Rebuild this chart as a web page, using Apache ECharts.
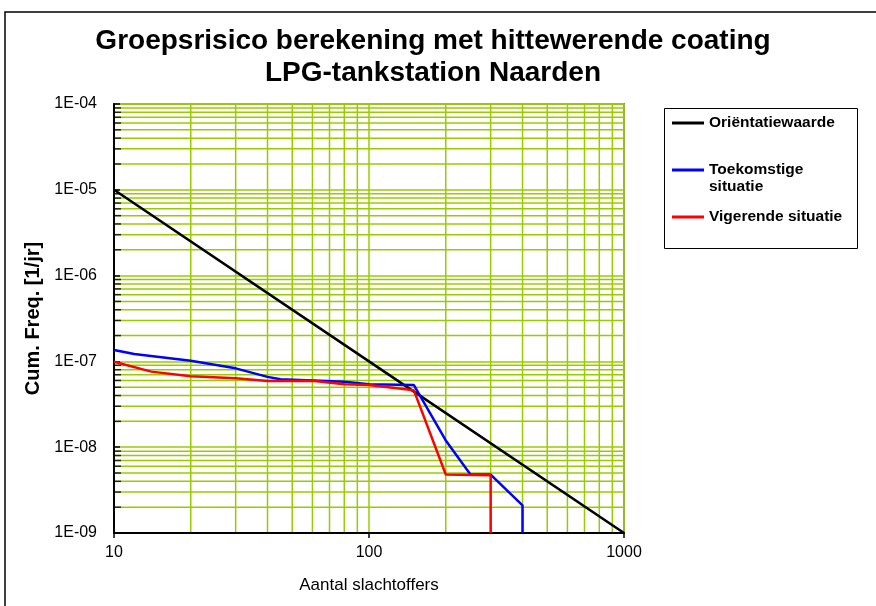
<!DOCTYPE html>
<html>
<head>
<meta charset="utf-8">
<script src="https://cdn.jsdelivr.net/npm/echarts@6/dist/echarts.min.js"></script>
<style>html,body{margin:0;padding:0;background:#fff}#c{width:876px;height:606px}</style>
</head>
<body>
<div id="c"></div>
<script>
// ---- data ----
var seriesNames = ['Oriëntatiewaarde', 'Toekomstige situatie', 'Vigerende situatie'];
var orientX = [10, 100, 1000];
var orientY = [1e-5, 1e-7, 1e-9];
var toekomstX = [10, 12, 20, 30, 40, 45, 60, 80, 100, 150, 200, 250, 300, 400, 400];
var toekomstY = [1.36e-7, 1.22e-7, 1.02e-7, 8.3e-8, 6.6e-8, 6.2e-8, 6.0e-8, 5.8e-8, 5.4e-8, 5.3e-8, 1.2e-8, 4.8e-9, 4.8e-9, 2.1e-9, 1e-9];
var vigerendX = [10, 14, 20, 30, 40, 60, 80, 100, 150, 200, 300, 300];
var vigerendY = [9.9e-8, 7.6e-8, 6.7e-8, 6.35e-8, 5.9e-8, 5.95e-8, 5.4e-8, 5.3e-8, 4.6e-8, 4.8e-9, 4.7e-9, 1e-9];
var xTickValues = [10, 100, 1000];
var yTickValues = [1e-9, 1e-8, 1e-7, 1e-6, 1e-5, 1e-4];
var yTickLabels = ['1E-09', '1E-08', '1E-07', '1E-06', '1E-05', '1E-04'];
var minorMult = [2, 3, 4, 5, 6, 7, 8, 9];

function pairs(xs, ys) { return xs.map(function (x, i) { return [x, ys[i]]; }); }
var xMinor = [], yMinor = [];
[10, 100].forEach(function (d) { minorMult.forEach(function (m) { xMinor.push(m * d); }); });
[1e-9, 1e-8, 1e-7, 1e-6, 1e-5].forEach(function (d) { minorMult.forEach(function (m) { yMinor.push(m * d); }); });

var GREEN = '#99CC00';
var FONT = 'Liberation Sans';
var X0 = xTickValues[0], X1 = xTickValues[xTickValues.length - 1];
var Y0 = yTickValues[0], Y1 = yTickValues[yTickValues.length - 1];

var gridSeries = [];
xMinor.forEach(function (v) {
  gridSeries.push({name: 'gx' + v, type: 'line', data: [[v, Y0], [v, Y1]], showSymbol: false, silent: true, z: 1,
    lineStyle: {color: GREEN, width: 1.5}, emphasis: {disabled: true}, tooltip: {show: false}});
});
yMinor.forEach(function (v) {
  gridSeries.push({name: 'gy' + v, type: 'line', data: [[X0, v], [X1, v]], showSymbol: false, silent: true, z: 1,
    lineStyle: {color: GREEN, width: 1.5}, emphasis: {disabled: true}, tooltip: {show: false}});
});

var chart = echarts.init(document.getElementById('c'), null, {renderer: 'canvas'});
chart.setOption({
  backgroundColor: '#fff',
  animation: false,
  textStyle: {fontFamily: FONT},
  title: {
    text: 'Groepsrisico berekening met hittewerende coating\nLPG-tankstation Naarden',
    left: 433, top: 25, padding: 0, textAlign: 'center',
    textStyle: {fontFamily: FONT, fontSize: 28, fontWeight: 'bold', color: '#000', lineHeight: 32}
  },
  legend: [
    {data: [seriesNames[0]], orient: 'vertical', left: 672, top: 114, padding: 0, selectedMode: false,
     icon: 'rect', itemWidth: 32, itemHeight: 3,
     textStyle: {fontFamily: FONT, fontSize: 15.5, fontWeight: 'bold', color: '#000', lineHeight: 18}},
    {data: [seriesNames[1]], orient: 'vertical', left: 672, top: 144.5, padding: 0, selectedMode: false,
     icon: 'rect', itemWidth: 32, itemHeight: 3,
     formatter: function () { return ' \nToekomstige\nsituatie'; },
     textStyle: {fontFamily: FONT, fontSize: 15.5, fontWeight: 'bold', color: '#000', lineHeight: 17}},
    {data: [seriesNames[2]], orient: 'vertical', left: 672, top: 208, padding: 0, selectedMode: false,
     icon: 'rect', itemWidth: 32, itemHeight: 3,
     textStyle: {fontFamily: FONT, fontSize: 15.5, fontWeight: 'bold', color: '#000', lineHeight: 18}}
  ],
  graphic: [
    {type: 'rect', shape: {x: 5, y: 12, width: 900, height: 700}, style: {fill: 'none', stroke: '#000', lineWidth: 1.5}, silent: true, z: -1},
    {type: 'rect', shape: {x: 664.5, y: 108.5, width: 193, height: 140}, style: {fill: 'none', stroke: '#000', lineWidth: 1}, silent: true}
  ],
  grid: {left: 114, top: 104, right: 252, bottom: 73, show: true, borderColor: '#888', borderWidth: 2, backgroundColor: '#fff', containLabel: false},
  xAxis: {
    type: 'log', logBase: 10, min: X0, max: X1,
    name: 'Aantal slachtoffers', nameLocation: 'middle', nameGap: 44,
    nameTextStyle: {fontFamily: FONT, fontSize: 17, color: '#000'},
    axisLine: {show: true, lineStyle: {color: '#000', width: 2}},
    axisTick: {show: true, inside: false, length: 5, lineStyle: {color: '#000', width: 1.5}},
    axisLabel: {show: true, fontFamily: FONT, fontSize: 16, color: '#000', margin: 12, showMinLabel: true, showMaxLabel: true,
      formatter: function (v) { var i = xTickValues.indexOf(Math.round(v)); return i >= 0 ? String(xTickValues[i]) : ''; }},
    splitLine: {show: true, lineStyle: {color: GREEN, width: 1.5}},
    z: 3
  },
  yAxis: {
    type: 'log', logBase: 10, min: Y0, max: Y1,
    name: 'Cum. Freq. [1/jr]', nameLocation: 'middle', nameGap: 71, nameRotate: 90,
    nameTextStyle: {fontFamily: FONT, fontSize: 20, fontWeight: 'bold', color: '#000'},
    axisLine: {show: true, lineStyle: {color: '#000', width: 2}},
    axisTick: {show: true, inside: true, length: 6, lineStyle: {color: '#000', width: 1.5}},
    axisLabel: {show: true, fontFamily: FONT, fontSize: 16, color: '#000', margin: 17, showMinLabel: true, showMaxLabel: true,
      formatter: function (v) {
        var e = Math.round(Math.log10(v));
        for (var i = 0; i < yTickValues.length; i++) { if (Math.round(Math.log10(yTickValues[i])) === e) return yTickLabels[i]; }
        return '';
      }},
    splitLine: {show: true, lineStyle: {color: GREEN, width: 1.5}},
    z: 3
  },
  series: gridSeries.concat([
    {
      name: 'minor-ticks', type: 'scatter', z: 4, silent: true,
      data: yMinor.map(function (v) { return [X0, v]; }),
      symbol: 'rect', symbolSize: [6, 1.5], symbolOffset: [4, 0],
      itemStyle: {color: '#000'}
    },
    {name: seriesNames[0], type: 'line', data: pairs(orientX, orientY), showSymbol: false, z: 5,
     lineStyle: {color: '#000', width: 2.5}, itemStyle: {color: '#000'}},
    {name: seriesNames[1], type: 'line', data: pairs(toekomstX, toekomstY), showSymbol: false, z: 6,
     lineStyle: {color: '#0000FF', width: 2.5}, itemStyle: {color: '#0000FF'}},
    {name: seriesNames[2], type: 'line', data: pairs(vigerendX, vigerendY), showSymbol: false, z: 7,
     lineStyle: {color: '#FF0000', width: 2.5}, itemStyle: {color: '#FF0000'}}
  ])
});
</script>
</body>
</html>
